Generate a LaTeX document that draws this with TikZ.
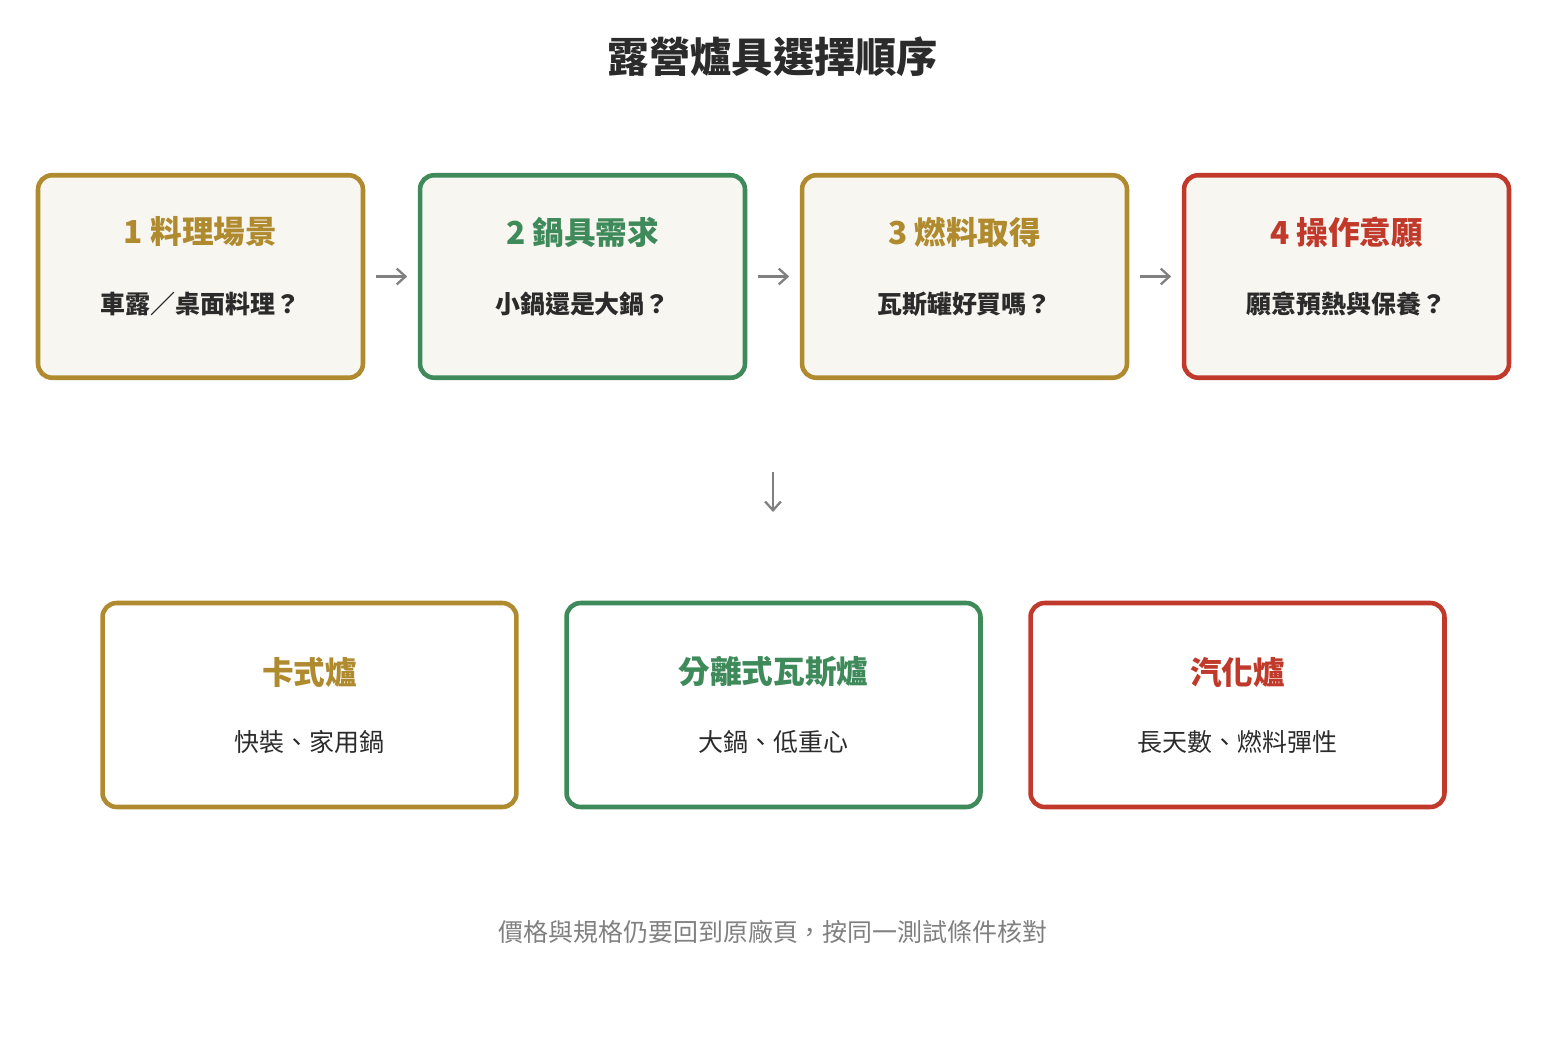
\documentclass[tikz,border=0pt]{standalone}
\usepackage{fontspec}
\setmainfont{Noto Sans CJK TC}
\usetikzlibrary{arrows.meta,positioning}
\definecolor{gold}{HTML}{B08A2E}
\definecolor{leaf}{HTML}{3E8A5A}
\definecolor{brick}{HTML}{C0392B}
\definecolor{paper}{HTML}{F8F6F0}
\definecolor{ink}{HTML}{2B2B2B}

\begin{document}
\begin{tikzpicture}[
    x=0.02cm, y=-0.02cm,
    stage/.style={rectangle, line width=2.6pt, rounded corners=8pt, minimum width=6.5cm, minimum height=4.05cm, fill=paper},
    stove/.style={rectangle, line width=2.6pt, rounded corners=8pt, minimum width=8.28cm, minimum height=4.08cm, fill=white},
    head/.style={font=\fontsize{18}{21}\selectfont\bfseries},
    sub/.style={font=\fontsize{14.2}{17}\selectfont, text=ink},
    subb/.style={font=\fontsize{14.2}{17}\selectfont\bfseries, text=ink},
    arrow/.style={-{Straight Barb[length=5pt,width=9pt,line width=1.3pt]}, line width=1.3pt, gray}
]
    \useasboundingbox (0,0) rectangle (1546,1040);
    \node[font=\fontsize{23.5}{27}\selectfont\bfseries, text=ink] (title) at (773,57) {露營爐具選擇順序};

    % Steps
    \node[stage, draw=gold] (scene) at (200.5,276.5) {};
    \node[head, text=gold] at (200.5,232) {1 料理場景};
    \node[subb] at (200.5,304) {車露／桌面料理？};
    \node[stage, draw=leaf] (pot) at (582.5,276.5) {};
    \node[head, text=leaf] at (582.5,232) {2 鍋具需求};
    \node[subb] at (582.5,304) {小鍋還是大鍋？};
    \node[stage, draw=gold] (fuel) at (964.5,276.5) {};
    \node[head, text=gold] at (964.5,232) {3 燃料取得};
    \node[subb] at (964.5,304) {瓦斯罐好買嗎？};
    \node[stage, draw=brick] (care) at (1346.5,276.5) {};
    \node[head, text=brick] at (1346.5,232) {4 操作意願};
    \node[subb] at (1346.5,304) {願意預熱與保養？};

    % Stoves
    \node[stove, draw=gold] (cassette) at (309.5,705) {};
    \node[head, text=gold] at (309.5,672) {卡式爐};
    \node[sub] at (309.5,742) {快裝、家用鍋};
    \node[stove, draw=leaf] (split) at (773.5,705) {};
    \node[head, text=leaf] at (773.5,672) {分離式瓦斯爐};
    \node[sub] at (773.5,742) {大鍋、低重心};
    \node[stove, draw=brick] (liquid) at (1237.5,705) {};
    \node[head, text=brick] at (1237.5,672) {汽化爐};
    \node[sub] at (1237.5,742) {長天數、燃料彈性};

    \node[font=\fontsize{14.2}{17}\selectfont, text=gray] (note) at (773,932) {價格與規格仍要回到原廠頁，按同一測試條件核對};

    % Routing
    \draw[arrow, shorten <=6pt, shorten >=6pt] (scene.east) -- (pot.west);
    \draw[arrow, shorten <=6pt, shorten >=6pt] (pot.east) -- (fuel.west);
    \draw[arrow, shorten <=6pt, shorten >=6pt] (fuel.east) -- (care.west);
    \coordinate (downtop) at (773,472);
    \coordinate (downend) at (773,512);
    \draw[arrow] (downtop) -- (downend);
\end{tikzpicture}
\end{document}
